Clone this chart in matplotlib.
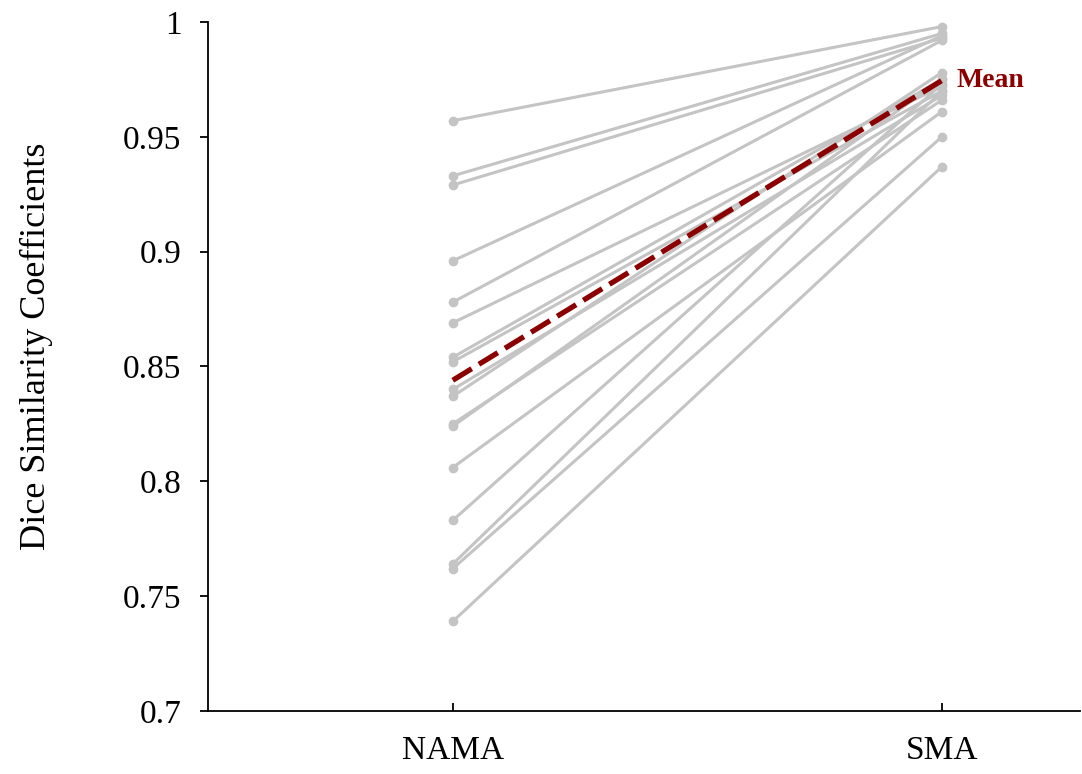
import numpy as np
import matplotlib
matplotlib.use("Agg")
import matplotlib.pyplot as plt

categories = ["NAMA", "SMA"]
nama = [0.957, 0.933, 0.929, 0.896, 0.878, 0.869, 0.854, 0.852, 0.840,
        0.837, 0.825, 0.824, 0.806, 0.783, 0.764, 0.762, 0.739]
sma = [0.998, 0.995, 0.993, 0.994, 0.992, 0.972, 0.975, 0.970, 0.968,
       0.978, 0.966, 0.975, 0.961, 0.973, 0.970, 0.950, 0.937]
yticks = [0.7, 0.75, 0.8, 0.85, 0.9, 0.95, 1.0]
ytick_labels = ["0.7", "0.75", "0.8", "0.85", "0.9", "0.95", "1"]

plt.rcParams['font.family'] = ['Liberation Serif', 'DejaVu Serif']

fig = plt.figure(figsize=(10.82, 7.74), dpi=100)
ax = fig.add_axes([0.192, 0.0814, 0.806, 0.8902])

x = np.arange(len(categories))
for a, b in zip(nama, sma):
    ax.plot(x, [a, b], color="#c4c4c4", lw=2.2, marker="o", ms=6,
            mec="#c4c4c4", mfc="#c4c4c4", zorder=2, solid_capstyle="round")

mean_vals = [np.mean(nama), np.mean(sma)]
ax.plot(x, mean_vals, color="#8b0000", lw=3.8, dashes=(4.2, 1.6), zorder=3)
ax.text(1.03, mean_vals[1], "Mean", color="#8b0000", fontsize=20,
        fontweight="bold", va="center", ha="left")

ax.set_xlim(-0.501, 1.282)
ax.set_ylim(0.7, 1.0)
ax.set_xticks(x)
ax.set_xticklabels(categories, fontsize=24)
ax.set_yticks(yticks)
ax.set_yticklabels(ytick_labels, fontsize=24)
ax.set_ylabel("Dice Similarity Coefficients", fontsize=26)
ax.yaxis.set_label_coords(-0.178, 0.53)

ax.tick_params(axis="y", direction="out", length=6, width=1.3, pad=13)
ax.tick_params(axis="x", direction="in", length=6, width=1.3, pad=18)
for s in ["top", "right"]:
    ax.spines[s].set_visible(False)
for s in ["left", "bottom"]:
    ax.spines[s].set_linewidth(1.3)
    ax.spines[s].set_color("black")

fig.savefig("out.png", dpi=100)
